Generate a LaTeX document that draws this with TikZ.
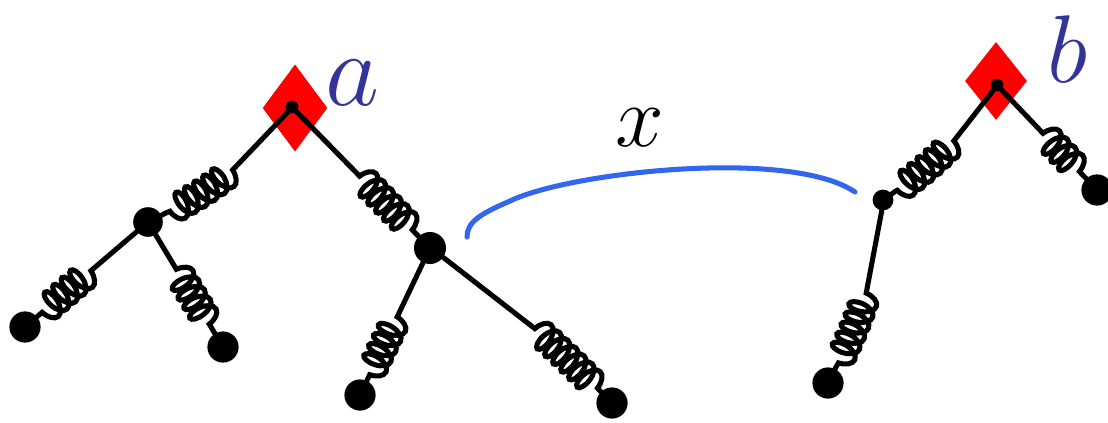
\documentclass[tikz,border=0pt]{standalone}
\usepackage{graphicx}
\usepackage{xcolor}
\usepackage{tikz}
\usetikzlibrary{shapes.geometric,decorations.pathmorphing}

\definecolor{labelblue}{HTML}{333399}
\definecolor{linkblue}{HTML}{3366EE}

\begin{document}
\begin{tikzpicture}[
  x=0.025cm, y=-0.025cm,
  branch/.style={line width=3.6pt, line cap=round, draw=black},
  spring/.style 2 args={branch, decorate,
              decoration={coil, amplitude=3.4mm, segment length=2.8mm,
                          pre length=#1, post length=#2}},
  leaf/.style={circle, fill=black, inner sep=0pt, minimum size=0.78cm},
  joint/.style={circle, fill=black, inner sep=0pt, minimum size=0.74cm},
  rootdot/.style={circle, fill=black, inner sep=0pt, minimum size=0.32cm},
  rootmark/.style={diamond, fill=red, inner sep=0pt},
  tag/.style={text=labelblue, inner sep=0pt, anchor=base, font=\Huge}
]
\useasboundingbox (0,0) rectangle (1108,422);

% roots
\node[rootmark, minimum width=1.62cm, minimum height=2.18cm] (da) at (295,108) {};
\node[rootmark, minimum width=1.55cm, minimum height=1.95cm] (db) at (996,81) {};
\node[rootdot] (ra) at (292,107) {};
\node[rootdot] (rb) at (997,85) {};
\node[tag] (la) at (352,105) {\scalebox{3}{$a$}};
\node[tag] (lb) at (1068,82) {\scalebox{2.75}{$b$}};

% tree a
\node[joint] (n1) at (148,222) {};
\node[joint, minimum size=0.8cm] (n2) at (430,248) {};
\node[leaf] (l1) at (25,327) {};
\node[leaf] (l2) at (223,347) {};
\node[leaf] (l3) at (360,395) {};
\node[leaf] (l4) at (612,403) {};

% tree b
\node[joint, minimum size=0.52cm] (n3) at (883,200) {};
\node[leaf] (l5) at (1097,190) {};
\node[leaf] (l6) at (828,383) {};

\draw[spring={2cm}{0.1cm}] (ra) to[bend left=12] (n1);
\draw[spring={1.5cm}{0.05cm}] (n1) -- (l1);
\draw[spring={1cm}{0.05cm}] (n1) -- (l2);
\draw[spring={2.25cm}{0.1cm}] (ra) -- (n2);
\draw[spring={1.5cm}{0.05cm}] (n2) -- (l3);
\draw[spring={2.9cm}{0.05cm}] (n2) to[bend left=5] (l4);
\draw[spring={1.6cm}{0.1cm}] (rb) to[bend left=10] (n3);
\draw[spring={1.5cm}{0.05cm}] (rb) -- (l5);
\draw[spring={2.1cm}{0.05cm}] (n3) to[bend left=10] (l6);

% distance x
\coordinate (xs) at (467,237);
\coordinate (xe) at (855,192);
\draw[line width=3.6pt, line cap=round, draw=linkblue] (xs)
  .. controls (467,222) and (480,214) .. (510,201)
  .. controls (570,172) and (790,148) .. (xe);
\node[inner sep=0pt, anchor=base, font=\Huge] (lx) at (640,146) {\scalebox{2.5}{$x$}};
\end{tikzpicture}
\end{document}
